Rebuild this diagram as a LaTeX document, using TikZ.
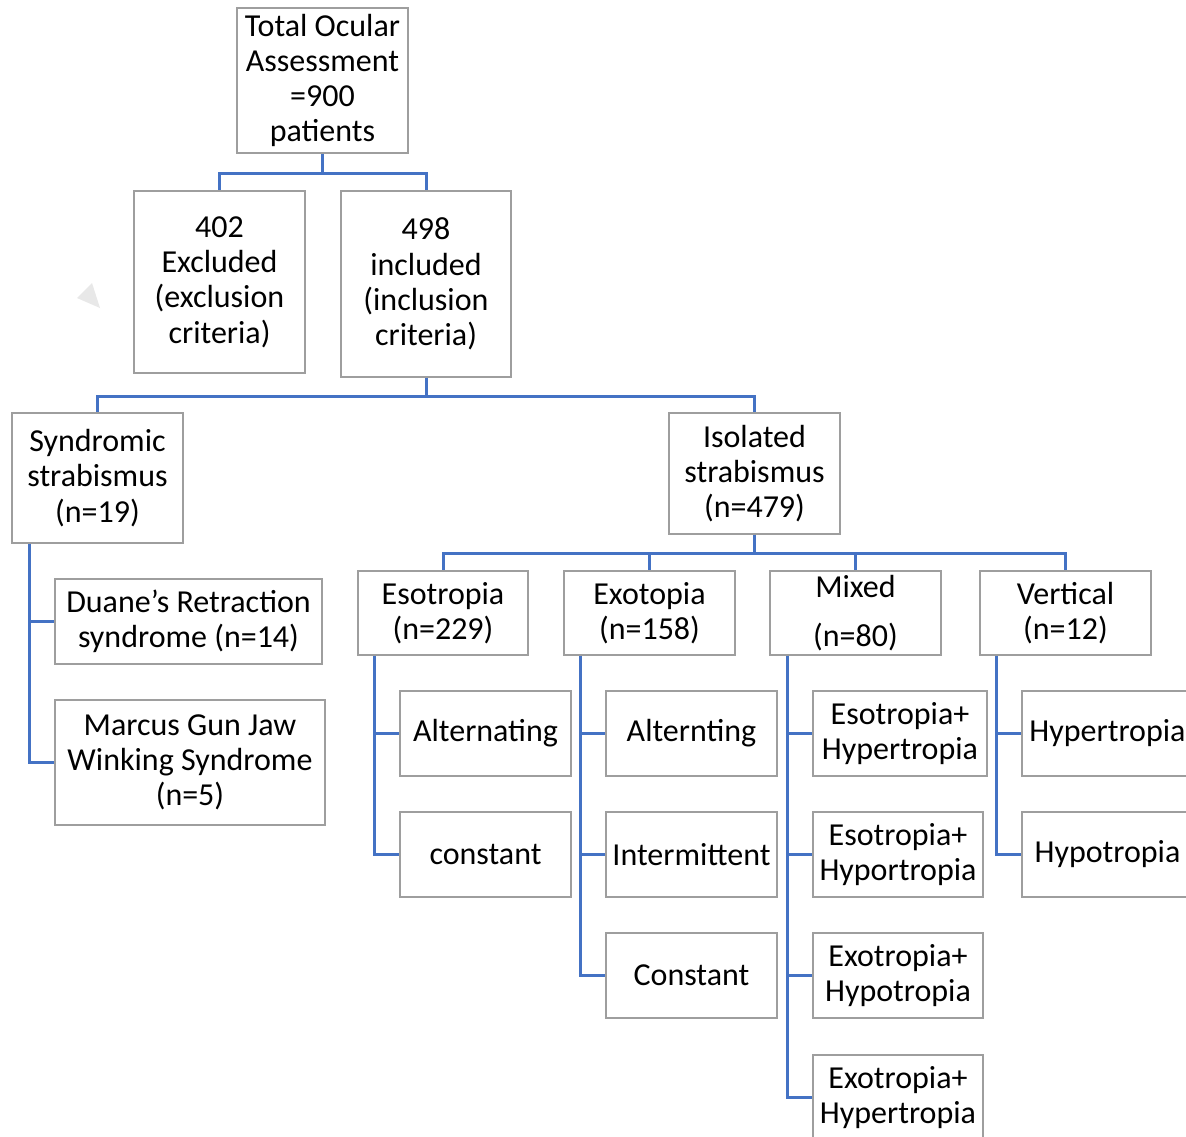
\documentclass[tikz,border=0pt]{standalone}
\usepackage{fontspec}
\setmainfont{Carlito}
\begin{document}
\begin{tikzpicture}[x=1pt,y=-1pt,
  box/.style={draw=black!38, line width=1.5pt, fill=white, align=center, inner sep=0pt,
    font=\fontsize{32}{35.3}\selectfont},
  conn/.style={draw=blueline, line width=3pt}]
\definecolor{blueline}{HTML}{4472C4}
\clip (0,0) rectangle (1186,1136);
\fill[white] (0,0) rectangle (1186,1136);
% faint triangle
\fill[black!9] (77,298) -- (100,308) -- (92,283) -- cycle;
% level 0-1
\node[box, minimum width=171, minimum height=145] (total) at (322.5,80.5) {Total Ocular\\Assessment\\=900\\patients};
\node[box, minimum width=171, minimum height=182] (excl) at (219.5,282) {402\\Excluded\\(exclusion\\criteria)};
\node[box, minimum width=170, minimum height=186] (incl) at (426,284) {498\\included\\(inclusion\\criteria)};
% level 2
\node[box, minimum width=171, minimum height=130] (synd) at (97.5,478) {Syndromic\\strabismus\\(n=19)};
\node[box, minimum width=171, minimum height=121] (iso) at (754.5,473.5) {Isolated\\strabismus\\(n=479)};
% syndromic children
\node[box, minimum width=267, minimum height=85] (duane) at (188.5,621.5) {Duane’s Retraction\\syndrome (n=14)};
\node[box, minimum width=270, minimum height=125] (marcus) at (190,762.5) {Marcus Gun Jaw\\Winking Syndrome\\(n=5)};
% level 3
\node[box, minimum width=170, minimum height=84] (eso) at (443,613) {Esotropia\\(n=229)};
\node[box, minimum width=171, minimum height=84] (exo) at (649.5,613) {Exotopia\\(n=158)};
\node[box, minimum width=171, minimum height=84] (mix) at (855.5,613) {Mixed\\[14pt](n=80)};
\node[box, minimum width=171, minimum height=84] (vert) at (1065.5,613) {Vertical\\(n=12)};
% esotropia children
\node[box, minimum width=171, minimum height=85] (alt1) at (485.5,733.5) {Alternating};
\node[box, minimum width=171, minimum height=85] (con1) at (485.5,854.5) {constant};
% exotopia children
\node[box, minimum width=171, minimum height=85] (alt2) at (691.5,733.5) {Alternting};
\node[box, minimum width=171, minimum height=85] (int2) at (691.5,854.5) {Intermittent};
\node[box, minimum width=171, minimum height=85] (con2) at (691.5,975.5) {Constant};
% mixed children
\node[box, minimum width=174, minimum height=85] (m1) at (900,733.5) {Esotropia+\\Hypertropia};
\node[box, minimum width=170, minimum height=85] (m2) at (898,854.5) {Esotropia+\\Hyportropia};
\node[box, minimum width=170, minimum height=85] (m3) at (898,975.5) {Exotropia+\\Hypotropia};
\node[box, minimum width=170, minimum height=85] (m4) at (898,1097.5) {Exotropia+\\Hypertropia};
% vertical children
\node[box, minimum width=171, minimum height=85] (v1) at (1107.5,733.5) {Hypertropia};
\node[box, minimum width=171, minimum height=85] (v2) at (1107.5,854.5) {Hypotropia};
% connectors
\draw[conn] (total.south) -- ++(0,20) -| (excl.north);
\draw[conn] (total.south) -- ++(0,20) -| (incl.north);
\draw[conn] (incl.south) -- ++(0,19) -| (synd.north);
\draw[conn] (incl.south) -- ++(0,19) -| (iso.north);
\draw[conn] (iso.south) -- ++(0,19) -| (eso.north);
\draw[conn] (iso.south) -- ++(0,19) -| (exo.north);
\draw[conn] (iso.south) -- ++(0,19) -| (mix.north);
\draw[conn] (iso.south) -- ++(0,19) -| (vert.north);
\draw[conn] ([xshift=18]synd.south west) |- (duane.west);
\draw[conn] ([xshift=18]synd.south west) |- (marcus.west);
\draw[conn] ([xshift=17]eso.south west) |- (alt1.west);
\draw[conn] ([xshift=17]eso.south west) |- (con1.west);
\draw[conn] ([xshift=17]exo.south west) |- (alt2.west);
\draw[conn] ([xshift=17]exo.south west) |- (int2.west);
\draw[conn] ([xshift=17]exo.south west) |- (con2.west);
\draw[conn] ([xshift=18]mix.south west) |- (m1.west);
\draw[conn] ([xshift=18]mix.south west) |- (m2.west);
\draw[conn] ([xshift=18]mix.south west) |- (m3.west);
\draw[conn] ([xshift=18]mix.south west) |- (m4.west);
\draw[conn] ([xshift=17]vert.south west) |- (v1.west);
\draw[conn] ([xshift=17]vert.south west) |- (v2.west);
\end{tikzpicture}
\end{document}
